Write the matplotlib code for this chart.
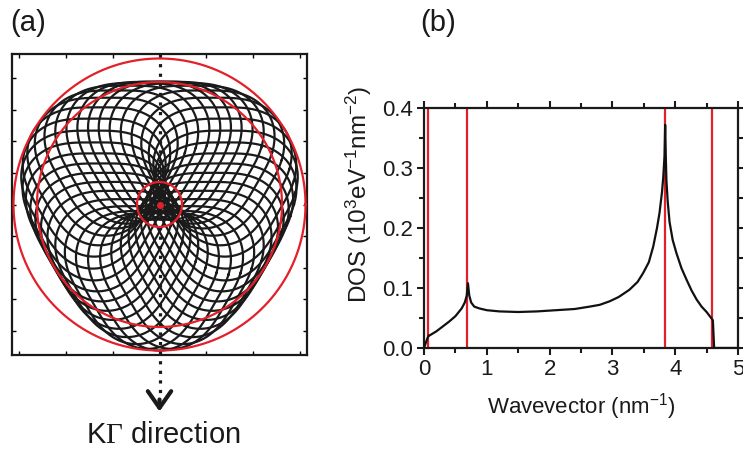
import numpy as np
import matplotlib
matplotlib.use('Agg')
import matplotlib.pyplot as plt

plt.rcParams['font.family'] = ['Liberation Sans', 'DejaVu Sans']
plt.rcParams['mathtext.fontset'] = 'custom'
plt.rcParams['mathtext.rm'] = 'Liberation Sans'
plt.rcParams['mathtext.it'] = 'Liberation Sans:italic'
plt.rcParams['mathtext.tt'] = 'Liberation Serif'

red = '#e3202a'

# (a) warped contours: shape params
R0 = 0.69          # mean contour radius
warp = 0.10        # trigonal warping of each contour
shift = 0.655      # mean radius of the centre path
path_warp = 0.071  # trigonal warping of the centre path
n_copies = 36
ring_radii = [1.46, 1.225, 0.225]

# (b) density of states
dos_k = [0.0, 0.02, 0.05, 0.075, 0.09, 0.2, 0.3, 0.4, 0.5, 0.6, 0.65, 0.68, 0.70,
         0.72, 0.75, 0.80, 0.88, 1.0, 1.2, 1.5, 1.8, 2.1, 2.4, 2.64, 2.8, 2.96,
         3.1, 3.27, 3.4, 3.49, 3.58, 3.65, 3.71, 3.75, 3.79, 3.81, 3.83, 3.84,
         3.85, 3.86, 3.88, 3.91, 3.96, 4.02, 4.1, 4.18, 4.26, 4.34, 4.42, 4.5,
         4.58, 4.60, 4.62, 5.0]
dos_val = [0.0, 0.006, 0.015, 0.021, 0.021, 0.028, 0.036, 0.044, 0.053, 0.066, 0.076,
           0.087, 0.108, 0.088, 0.076, 0.069, 0.066, 0.063, 0.061, 0.060, 0.061,
           0.063, 0.065, 0.069, 0.072, 0.078, 0.085, 0.097, 0.110, 0.125, 0.143,
           0.169, 0.200, 0.225, 0.260, 0.285, 0.320, 0.372, 0.320, 0.280, 0.245,
           0.210, 0.180, 0.158, 0.133, 0.114, 0.096, 0.081, 0.069, 0.060, 0.049,
           0.046, 0.0, 0.0]
vlines_k = [0.07, 0.685, 3.838, 4.586]

fig = plt.figure(figsize=(7.43, 4.49), dpi=100)

# ---------------- panel (a)
ax1 = fig.add_axes([12/743, 1-355/449, 295/743, 301/449])
phi = np.linspace(0, 2*np.pi, 500)
r = R0*(1 + warp*np.sin(3*phi))
for th in np.arange(n_copies)*2*np.pi/n_copies:
    d = shift*(1 + path_warp*np.sin(3*th))
    ax1.plot(r*np.cos(phi) + d*np.cos(th), r*np.sin(phi) + d*np.sin(th),
             color='#1a1a1a', lw=1.6, zorder=2)
for rr in ring_radii:
    ax1.plot(rr*np.cos(phi), rr*np.sin(phi), color=red, lw=1.6, zorder=4)
ax1.plot([0], [0], 'o', color=red, ms=4, zorder=5)

# dotted direction line with arrow head
ax1.plot([0, 0], [1.505, -1.92], color='#1a1a1a', lw=2.3, ls=(0, (1, 2)),
         dash_capstyle='butt', clip_on=False, zorder=3)
ax1.annotate('', xy=(0, -2.07), xytext=(0, -1.95),
             arrowprops=dict(arrowstyle='->,head_length=0.6,head_width=0.42',
                             lw=3, color='#1a1a1a', mutation_scale=20,
                             shrinkA=0, shrinkB=0),
             annotation_clip=False)

ax1.set_xlim(-1.475, 1.475)
ax1.set_ylim(-1.505, 1.505)
ax1.set_xticks(np.arange(-3, 4)*0.467)
ax1.set_yticks(np.arange(-4, 5)*0.316)
ax1.tick_params(direction='in', length=3, width=1, top=True, right=True,
                labelbottom=False, labelleft=False)
for s in ax1.spines.values():
    s.set_linewidth(1.6)
    s.set_color('#1a1a1a')

fig.text(163/743, 1-443/449, r'K$\mathtt{\Gamma}$ direction', fontsize=21,
         ha='center', va='baseline', color='#1a1a1a')
fig.text(10/743, 1-31/449, '(a)', fontsize=21, ha='left', va='baseline', color='#1a1a1a')

# ---------------- panel (b)
ax2 = fig.add_axes([424/743, 1-348/449, 314/743, 240/449])
for k in vlines_k:
    ax2.axvline(k, color=red, lw=1.6, zorder=2)
ax2.plot(dos_k, dos_val, color='#111111', lw=1.6, zorder=3)
ax2.set_xlim(0, 5)
ax2.set_ylim(0, 0.4)
ax2.set_xticks(np.arange(0, 6, 1))
ax2.set_xticks(np.arange(0, 5.01, 0.5), minor=True)
ax2.set_yticks(np.arange(0, 0.41, 0.1))
ax2.set_yticks(np.arange(0, 0.41, 0.05), minor=True)
ax2.set_yticklabels(['0.0', '0.1', '0.2', '0.3', '0.4'])
ax2.tick_params(which='both', direction='out', top=True, right=True, width=1.5,
                labelsize=16, pad=3, colors='#1a1a1a')
ax2.tick_params(which='major', length=5)
ax2.tick_params(which='minor', length=3.5)
for s in ax2.spines.values():
    s.set_linewidth(1.6)
    s.set_color('#1a1a1a')
ax2.set_xlabel('Wavevector (nm$^{-1}$)', fontsize=16, labelpad=8, color='#1a1a1a')
ax2.set_ylabel('DOS (10$^3$eV$^{-1}$nm$^{-2}$)', fontsize=17.5, color='#1a1a1a')
ax2.yaxis.set_label_coords(-0.16, 0.64)
fig.text(420/743, 1-31/449, '(b)', fontsize=21, ha='left', va='baseline', color='#1a1a1a')

fig.savefig('out.png', dpi=100)
